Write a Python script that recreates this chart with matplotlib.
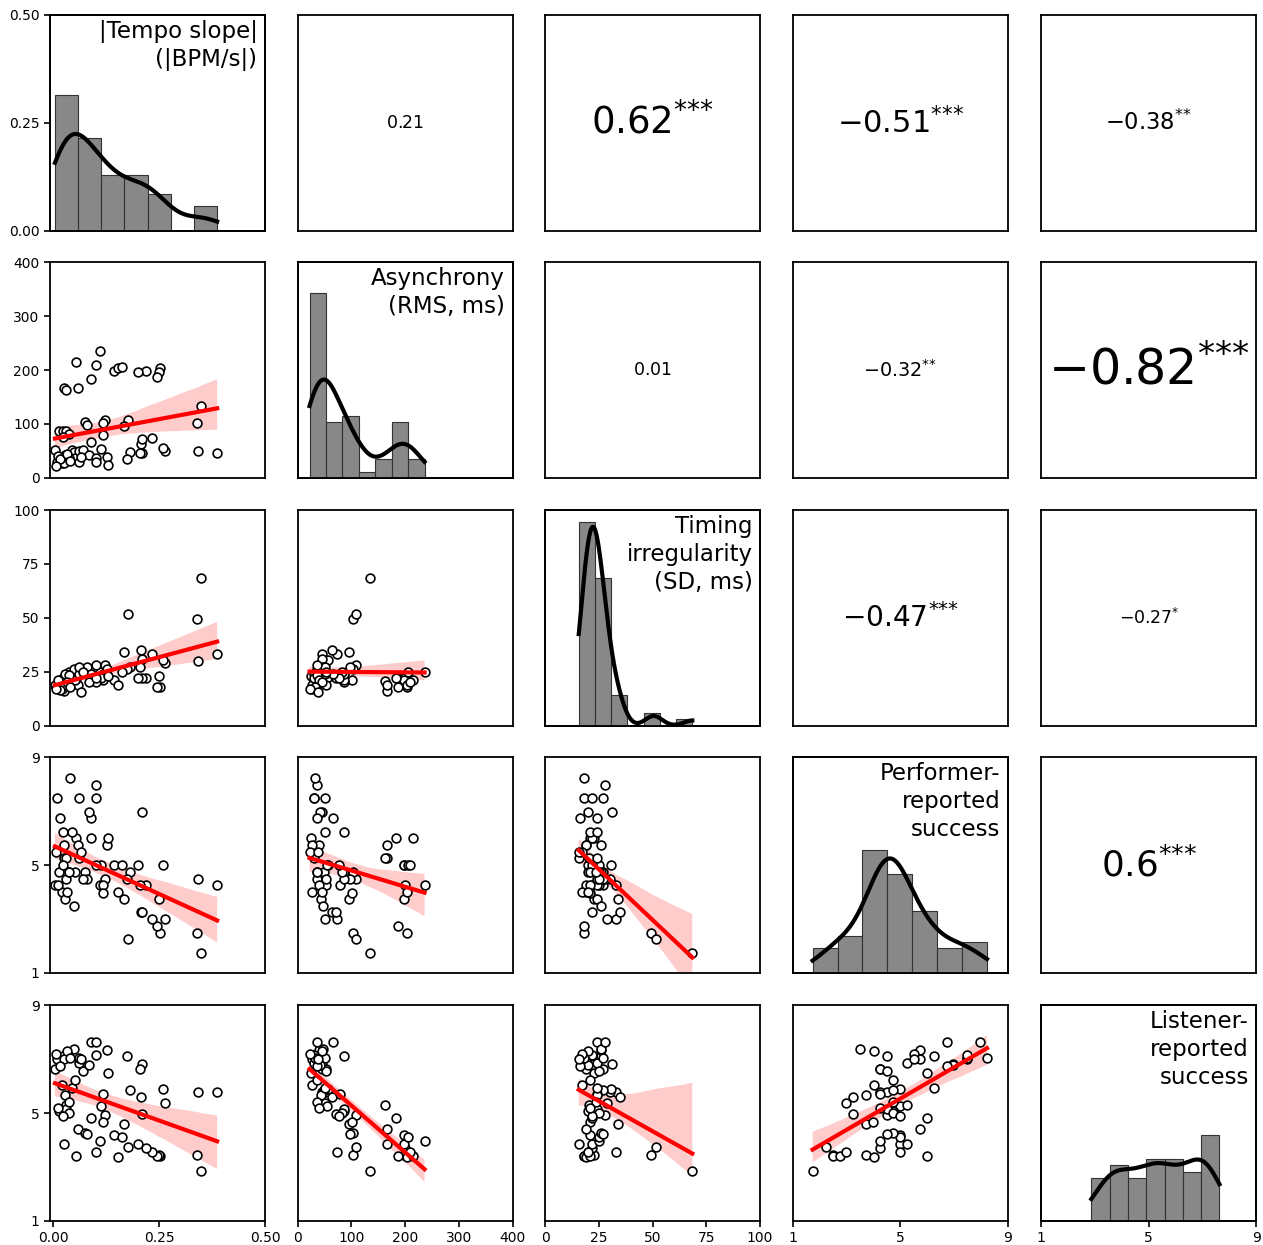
import numpy as np
import matplotlib
matplotlib.use("Agg")
import matplotlib.pyplot as plt
from matplotlib.ticker import FormatStrFormatter
from matplotlib.collections import PolyCollection
import seaborn as sns

# -----------------------------
# DATOS (65 observaciones)
# -----------------------------
tempo = [0.387, 0.348, 0.342, 0.340, 0.265, 0.260, 0.251, 0.250, 0.246, 0.232,
         0.220, 0.210, 0.208, 0.206, 0.209, 0.201, 0.181, 0.176, 0.175, 0.111,
         0.144, 0.154, 0.163, 0.167, 0.123, 0.118, 0.117, 0.112, 0.126, 0.130,
         0.053, 0.102, 0.090, 0.025, 0.031, 0.059, 0.074, 0.080, 0.014, 0.024,
         0.029, 0.036, 0.022, 0.088, 0.004, 0.009, 0.020, 0.026, 0.027, 0.045,
         0.049, 0.051, 0.061, 0.061, 0.071, 0.085, 0.100, 0.100, 0.037, 0.012,
         0.017, 0.033, 0.040, 0.006, 0.066]

asynchrony = [46, 134, 50, 102, 50, 56, 203, 197, 187, 73,
              199, 46, 63, 46, 72, 197, 48, 108, 35, 236,
              198, 203, 205, 96, 108, 79, 101, 54, 39, 24,
              215, 209, 183, 166, 163, 167, 103, 98, 87, 87,
              87, 82, 76, 66, 52, 30, 27, 27, 43, 51,
              47, 36, 30, 50, 52, 42, 36, 30, 36, 40,
              35, 45, 32, 22, 38]

timing = [33, 68.5, 30, 49.4, 29, 30.5, 18, 23, 18, 33,
          22, 31, 35, 27, 22, 22, 27, 51.7, 26, 25,
          21, 19, 25, 34, 28, 24, 21, 22, 26, 23,
          21, 20, 22, 16, 20.6, 19, 26, 27, 20, 21,
          24, 25, 22, 24, 19, 18, 17, 19, 24, 24,
          26, 21, 24, 27, 25, 20, 28, 22, 23.5, 21,
          16.5, 20, 18, 17, 15.7]

performer = [4.26, 1.74, 4.50, 2.49, 2.99, 5.00, 2.49, 3.74, 2.75, 2.99,
             4.26, 6.98, 3.24, 4.26, 3.24, 5.00, 4.75, 2.24, 4.50, 4.26,
             5.00, 4.01, 5.00, 3.74, 4.50, 4.26, 3.98, 5.00, 5.74, 5.99,
             5.99, 5.00, 5.99, 5.25, 5.25, 5.74, 4.75, 4.50, 4.75, 6.24,
             4.50, 4.75, 5.00, 6.73, 4.26, 7.48, 4.01, 5.74, 3.74, 6.24,
             3.49, 4.75, 5.25, 7.48, 4.50, 6.98, 7.98, 7.48, 4.75, 4.26,
             6.73, 4.01, 8.23, 5.50, 5.50]

listener = [5.80, 2.86, 5.80, 3.45, 5.37, 5.89, 3.39, 3.45, 3.39, 3.55,
            3.70, 6.83, 5.60, 6.65, 4.98, 3.86, 5.87, 3.74, 7.10, 3.98,
            4.20, 3.35, 4.10, 4.59, 4.94, 5.72, 4.65, 5.27, 7.35, 6.49,
            3.39, 3.56, 4.81, 3.86, 5.31, 4.41, 4.26, 4.24, 5.06, 7.10,
            5.16, 5.00, 4.88, 7.63, 6.63, 7.00, 6.03, 7.00, 5.66, 5.93,
            7.39, 6.24, 6.86, 7.04, 6.55, 6.80, 7.63, 7.14, 5.41, 5.20,
            6.73, 7.30, 7.04, 7.20, 7.00]

variables = [tempo, asynchrony, timing, performer, listener]
etiquetas = ["|Tempo slope|\n(|BPM/s|)", "Asynchrony\n(RMS, ms)",
             "Timing\nirregularity\n(SD, ms)", "Performer-\nreported\nsuccess",
             "Listener-\nreported\nsuccess"]
limites = [(-0.0077, 0.5), (0, 400), (0, 100), (1, 9), (1, 9)]
ticks = [[0, 0.25, 0.5], [0, 100, 200, 300, 400], [0, 25, 50, 75, 100],
         [1, 5, 9], [1, 5, 9]]

# correlaciones mostradas en el triangulo superior
corr_pares = [(0, 1), (0, 2), (0, 3), (0, 4), (1, 2), (1, 3), (1, 4), (2, 3), (2, 4), (3, 4)]
corr_r = [0.21, 0.62, -0.51, -0.38, 0.01, -0.32, -0.82, -0.47, -0.27, 0.6]
corr_estrellas = ["", "***", "***", "**", "", "**", "***", "***", "*", "***"]

# -----------------------------
# FIGURA
# -----------------------------
W, H = 1263, 1245
fig = plt.figure(figsize=(W / 100, H / 100), dpi=100)

col_left = [50, 297.7, 545, 792.7, 1041.3]
row_top = [15, 262.3, 510, 757.3, 1005.3]
aw, ah = 215, 215.5

n = len(variables)
axes = [[None] * n for _ in range(n)]
for i in range(n):
    for j in range(n):
        ax = fig.add_axes([col_left[j] / W, 1 - (row_top[i] + ah) / H, aw / W, ah / H])
        axes[i][j] = ax
        for s in ax.spines.values():
            s.set_linewidth(1.3)

for i in range(n):
    for j in range(n):
        ax = axes[i][j]
        x = np.array(variables[j])
        y = np.array(variables[i])
        if i > j:
            ax.scatter(x, y, s=40, facecolor="white", edgecolor="black",
                       linewidths=1.2, zorder=2)
            sns.regplot(x=x, y=y, ax=ax, scatter=False, color="red", ci=95,
                        n_boot=1000, seed=1, line_kws={"lw": 3, "zorder": 3})
            for c in ax.collections:
                if isinstance(c, PolyCollection):
                    c.set_alpha(0.2)
                    c.set_zorder(1)
        elif i == j:
            ax2 = ax.twinx()
            sns.histplot(x=x, bins=7, kde=True, stat="count", ax=ax2,
                         color="#737373", alpha=0.85, edgecolor="#333333",
                         linewidth=0.8, line_kws={"lw": 3})
            for ln in ax2.lines:
                ln.set_color("black")
            ax2.set_ylim(0, 35)
            ax2.set_yticks([])
            ax2.set_ylabel("")
            ax2.set_xlabel("")
            for s in ax2.spines.values():
                s.set_linewidth(1.3)
            ax2.text(0.965, 0.978, etiquetas[i], transform=ax2.transAxes,
                     ha="right", va="top", fontsize=16.5, linespacing=1.28)
        else:
            k = corr_pares.index((i, j))
            r = corr_r[k]
            num = f"{r:g}"
            est = "".join("{*}" for _ in corr_estrellas[k])
            txt = "$%s$" % num if est == "" else "$%s^{%s}$" % (num, est)
            fs = max(43 * abs(r), 12.5)
            ax.text(0.5, 0.5, txt, transform=ax.transAxes, ha="center",
                    va="center", fontsize=fs)

        ax.set_xlim(limites[j])
        ax.set_ylim(limites[i] if i != 0 else (0, 0.5))
        ax.set_xticks(ticks[j])
        ax.set_yticks(ticks[i])
        ax.set_xlabel("")
        ax.set_ylabel("")
        ax.tick_params(direction="out", length=4, width=1.2, labelsize=10)
        if j == 0:
            ax.yaxis.set_major_formatter(FormatStrFormatter("%.2f") if i == 0
                                         else FormatStrFormatter("%g"))
        if i == n - 1:
            ax.xaxis.set_major_formatter(FormatStrFormatter("%.2f") if j == 0
                                         else FormatStrFormatter("%g"))
        if i != n - 1:
            ax.tick_params(bottom=False, labelbottom=False)
        if j != 0:
            ax.tick_params(left=False, labelleft=False)

    # x del diagonal
    axes[i][i].set_xlim(limites[i])

fig.savefig("out.png", dpi=100)
